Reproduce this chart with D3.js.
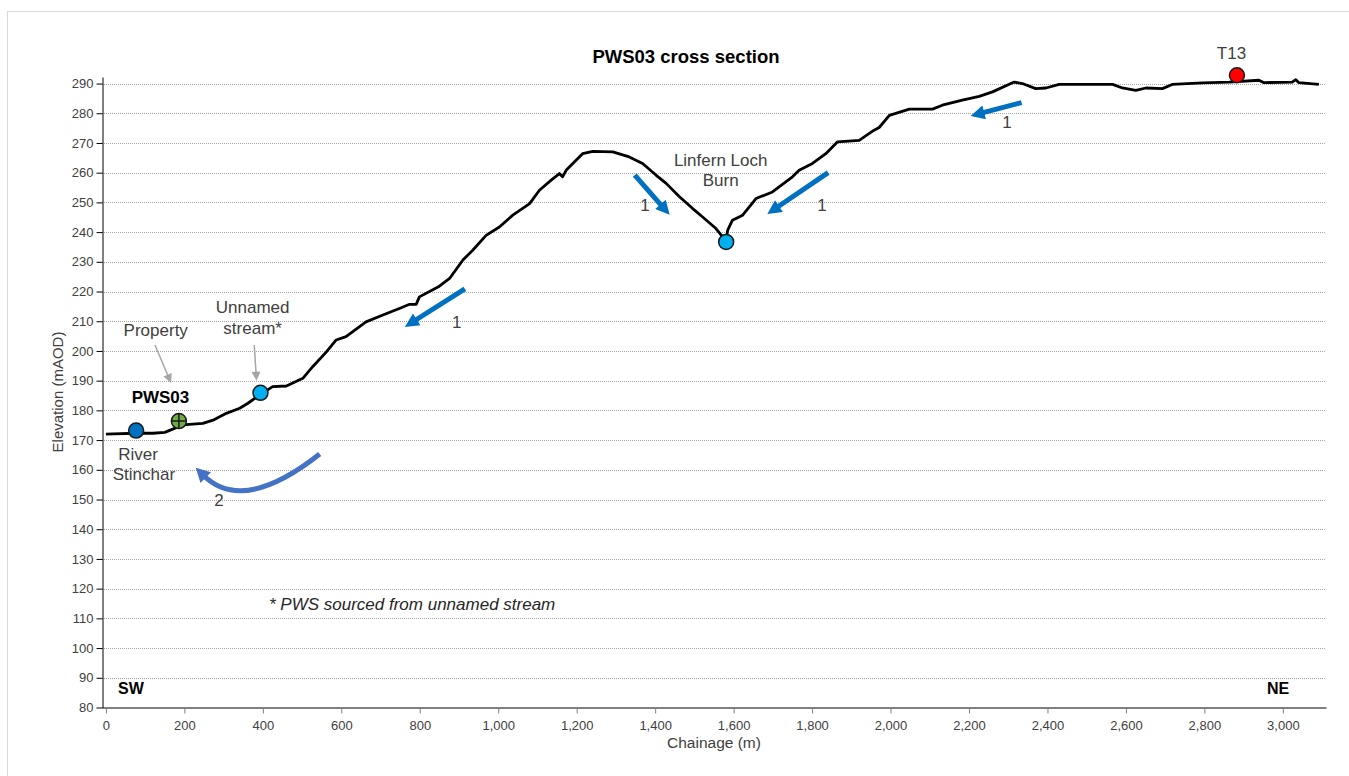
<!DOCTYPE html>
<html>
<head>
<meta charset="utf-8">
<script src="https://cdn.jsdelivr.net/npm/d3@7"></script>
<style>
  body { margin: 0; background: #fff; }
  text { font-family: Arial, 'Liberation Sans', sans-serif; }
</style>
</head>
<body>
<div id="chart"></div>
<script>
// ground profile
const chainage = [0, 20, 77, 120, 150, 196, 247, 273, 307, 341, 362, 392, 425, 460, 502, 527, 562, 587, 612,
  663, 706, 748, 774, 791, 799, 850, 876, 910, 935, 969, 1003, 1037, 1080, 1105, 1135, 1156, 1164, 1173,
  1215, 1241, 1292, 1334, 1368, 1402, 1428, 1462, 1495, 1521, 1555, 1572, 1580, 1585, 1597, 1623, 1657,
  1699, 1750, 1767, 1801, 1835, 1865, 1920, 1958, 1971, 1997, 2048, 2107, 2132, 2183, 2226, 2260, 2315,
  2336, 2370, 2396, 2430, 2566, 2591, 2625, 2651, 2693, 2718, 2795, 2863, 2939, 2952, 3024, 3033, 3041, 3092];
const elevation = [172.0, 172.1, 172.3, 172.3, 172.6, 175.1, 175.6, 176.7, 179.0, 180.7, 182.4, 185.2, 188.0,
  188.2, 190.8, 194.7, 199.7, 203.7, 204.8, 209.8, 212.1, 214.3, 215.7, 215.7, 218.2, 221.8, 224.4, 230.6,
  233.9, 238.9, 241.7, 245.7, 249.6, 254.1, 257.5, 259.7, 258.6, 260.8, 266.4, 267.2, 267.0, 265.3, 263.1,
  259.2, 256.4, 251.9, 248.0, 245.1, 241.2, 238.4, 236.8, 240.7, 244.0, 245.7, 251.3, 253.5, 258.6, 260.8,
  263.1, 266.4, 270.4, 270.9, 274.3, 275.2, 279.3, 281.4, 281.4, 282.7, 284.4, 285.7, 287.2, 290.5, 290.0,
  288.3, 288.5, 289.7, 289.7, 288.5, 287.7, 288.5, 288.3, 289.7, 290.2, 290.5, 291.1, 290.3, 290.5, 291.3,
  290.3, 289.7];

// point features
const pointNames = ['River Stinchar', 'PWS03', 'Unnamed stream', 'Linfern Loch Burn', 'T13'];
const pointChainage = [77, 186, 394, 1581, 2883];
const pointElevation = [173.2, 176.4, 185.9, 236.7, 292.8];
const pointFill = ['#0070c0', '#70ad47', '#00b0f0', '#00b0f0', '#ff0000'];

// flow arrows [tail chainage, tail elev, tip chainage, tip elev]
const flowArrows = [
  [915, 220.9, 762, 208.1],
  [1348, 259.2, 1437, 245.8],
  [1841, 260.0, 1686, 246.1],
  [2334, 283.6, 2204, 279.1]
];
const flowLabels = [[894, 209.7, '1'], [1374, 249.1, '1'], [1825, 249.1, '1'], [2297, 277.1, '1'], [288, 149.8, '2']];
// curved arrow: start, control, tip
const curveArrow = [[545, 165.3], [350, 145.0], [229, 160.7]];

// labels [chainage, elev, text, weight]
const labels = [
  [127, 206.9, 'Property', 'normal'],
  [374, 214.8, 'Unnamed', 'normal'],
  [374, 207.7, 'stream*', 'normal'],
  [139, 184.6, 'PWS03', 'bold'],
  [82, 165.3, 'River', 'normal'],
  [97, 158.6, 'Stinchar', 'normal'],
  [1567, 264.2, 'Linfern Loch', 'normal'],
  [1567, 257.6, 'Burn', 'normal'],
  [2869, 300.4, 'T13', 'normal']
];
// grey pointer arrows [from ch, from elev, to ch, to elev]
const pointers = [[125, 202.0, 166, 189.2], [378, 202.0, 384, 190.0]];

const xTicks = d3.range(0, 3001, 200);
const yTicks = d3.range(80, 291, 10);

const width = 1349, height = 776;
const x = d3.scaleLinear().domain([-10, 3110]).range([102, 1326]);
const y = d3.scaleLinear().domain([80, 292.2]).range([707.5, 77]);

const svg = d3.select('#chart').append('svg').attr('width', width).attr('height', height);

// outer frame
svg.append('rect').attr('x', 7.5).attr('y', 11.5).attr('width', 1360).attr('height', 800)
  .attr('fill', 'none').attr('stroke', '#d9d9d9');

// gridlines
svg.append('g').selectAll('line').data(yTicks.filter(d => d > 80)).enter()
  .append('line')
  .attr('x1', x(-10)).attr('x2', x(3110))
  .attr('y1', d => Math.round(y(d)) + 0.5).attr('y2', d => Math.round(y(d)) + 0.5)
  .attr('stroke', '#a6a6a6').attr('stroke-dasharray', '1,1');

// axes
const xAxis = d3.axisBottom(x).tickValues(xTicks).tickFormat(d3.format(',')).tickSize(6).tickSizeOuter(0).tickPadding(7);
const gx = svg.append('g').attr('transform', 'translate(0,' + 707.5 + ')').call(xAxis);
gx.select('.domain').attr('stroke', '#808080').attr('stroke-width', 2);
gx.selectAll('.tick line').attr('stroke', '#808080');
gx.selectAll('text').attr('fill', '#404040').style('font-size', '13px');

const yAxis = d3.axisLeft(y).tickValues(yTicks).tickSize(6).tickSizeOuter(0).tickPadding(3);
const gy = svg.append('g').attr('transform', 'translate(102.5,0)').call(yAxis);
gy.select('.domain').attr('stroke', '#000');
gy.selectAll('.tick line').attr('stroke', '#000');
gy.selectAll('text').attr('fill', '#404040').style('font-size', '13px');

svg.append('text').attr('x', 714).attr('y', 748).attr('text-anchor', 'middle')
  .attr('fill', '#404040').style('font-size', '15.5px').text('Chainage (m)');
svg.append('text').attr('transform', 'translate(63,392) rotate(-90)').attr('text-anchor', 'middle')
  .attr('fill', '#404040').style('font-size', '15px').text('Elevation (mAOD)');
svg.append('text').attr('x', 686).attr('y', 63).attr('text-anchor', 'middle')
  .attr('fill', '#000').style('font-size', '18.5px').style('font-weight', 'bold').text('PWS03 cross section');

// direction labels
svg.append('text').attr('x', 131).attr('y', 694).attr('text-anchor', 'middle')
  .style('font-size', '16px').style('font-weight', 'bold').text('SW');
svg.append('text').attr('x', 1278).attr('y', 694).attr('text-anchor', 'middle')
  .style('font-size', '16px').style('font-weight', 'bold').text('NE');

// note
svg.append('text').attr('x', 269).attr('y', 610).attr('fill', '#262626')
  .style('font-size', '17px').style('font-style', 'italic').text('* PWS sourced from unnamed stream');

// profile
const line = d3.line().x(d => x(d[0])).y(d => y(d[1]));
svg.append('path').datum(chainage.map((c, i) => [c, elevation[i]]))
  .attr('d', line).attr('fill', 'none').attr('stroke', '#000').attr('stroke-width', 2.8)
  .attr('stroke-linejoin', 'round');

// arrow heads
const defs = svg.append('defs');
function addHead(id, colour, len, half) {
  defs.append('marker').attr('id', id).attr('markerUnits', 'userSpaceOnUse')
    .attr('viewBox', (-len) + ' ' + (-half) + ' ' + (len * 2) + ' ' + (half * 2))
    .attr('markerWidth', len * 2).attr('markerHeight', half * 2)
    .attr('refX', 0).attr('refY', 0).attr('orient', 'auto')
    .append('path').attr('d', 'M-3,' + (-half) + 'L' + (len - 3) + ',0L-3,' + half + 'Z').attr('fill', colour);
}
addHead('headBlue', '#0070c0', 14, 7);
addHead('headCurve', '#4472c4', 14, 7.5);
addHead('headGrey', '#a6a6a6', 9, 4.5);

// shorten a segment end by n px so the head tip lands on the given point
function trim(x1, y1, x2, y2, n) {
  const dx = x2 - x1, dy = y2 - y1, l = Math.sqrt(dx * dx + dy * dy);
  return [x2 - dx / l * n, y2 - dy / l * n];
}

svg.append('g').selectAll('line').data(flowArrows).enter()
  .append('line')
  .attr('x1', d => x(d[0])).attr('y1', d => y(d[1]))
  .attr('x2', d => trim(x(d[0]), y(d[1]), x(d[2]), y(d[3]), 11)[0])
  .attr('y2', d => trim(x(d[0]), y(d[1]), x(d[2]), y(d[3]), 11)[1])
  .attr('stroke', '#0070c0').attr('stroke-width', 5).attr('marker-end', 'url(#headBlue)');

const c0 = curveArrow.map(p => [x(p[0]), y(p[1])]);
const cEnd = trim(c0[1][0], c0[1][1], c0[2][0], c0[2][1], 11);
svg.append('path')
  .attr('d', 'M' + c0[0] + 'Q' + c0[1] + ' ' + cEnd)
  .attr('fill', 'none').attr('stroke', '#4472c4').attr('stroke-width', 5)
  .attr('marker-end', 'url(#headCurve)');

svg.append('g').selectAll('text').data(flowLabels).enter()
  .append('text')
  .attr('x', d => x(d[0])).attr('y', d => y(d[1]) + 6).attr('text-anchor', 'middle')
  .attr('fill', '#404040').style('font-size', '17px').text(d => d[2]);

svg.append('g').selectAll('line').data(pointers).enter()
  .append('line')
  .attr('x1', d => x(d[0])).attr('y1', d => y(d[1]))
  .attr('x2', d => trim(x(d[0]), y(d[1]), x(d[2]), y(d[3]), 6)[0])
  .attr('y2', d => trim(x(d[0]), y(d[1]), x(d[2]), y(d[3]), 6)[1])
  .attr('stroke', '#a6a6a6').attr('stroke-width', 1.5).attr('marker-end', 'url(#headGrey)');

svg.append('g').selectAll('text').data(labels).enter()
  .append('text')
  .attr('x', d => x(d[0])).attr('y', d => y(d[1]) + 6).attr('text-anchor', 'middle')
  .attr('fill', d => d[3] === 'bold' ? '#000' : '#404040')
  .style('font-size', '17px').style('font-weight', d => d[3]).text(d => d[2]);

// point markers
const pts = svg.append('g').selectAll('g').data(pointNames).enter().append('g')
  .attr('transform', (d, i) => 'translate(' + x(pointChainage[i]) + ',' + y(pointElevation[i]) + ')');
pts.append('circle').attr('r', 7.5).attr('fill', (d, i) => pointFill[i])
  .attr('stroke', '#1a1a1a').attr('stroke-width', 1.5);
pts.filter(d => d === 'PWS03').append('path')
  .attr('d', 'M-7,0H7M0,-7V7').attr('stroke', '#1a1a1a').attr('stroke-width', 1.5);
</script>
</body>
</html>
